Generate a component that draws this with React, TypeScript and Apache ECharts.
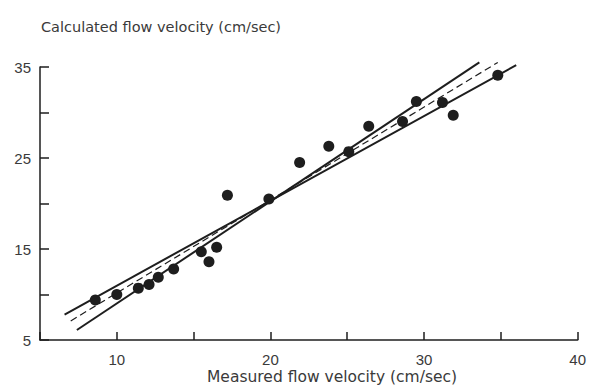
import React, { useEffect, useRef } from "react";
import * as echarts from "echarts";

const measured = [8.6, 10.0, 11.4, 12.1, 12.7, 13.7, 15.5, 16.0, 16.5, 17.2, 19.9, 21.9, 23.8, 25.1, 26.4, 28.6, 29.5, 31.2, 31.9, 34.8];
const calculated = [9.4, 10.0, 10.7, 11.1, 11.9, 12.8, 14.7, 13.6, 15.2, 20.9, 20.5, 24.5, 26.3, 25.7, 28.5, 29.0, 31.2, 31.1, 29.7, 34.1];

const steepLine = [[7.4, 6.1], [33.6, 35.5]];
const shallowLine = [[6.6, 7.8], [36.0, 35.2]];
const dashedLine = [[7.0, 7.1], [34.8, 35.5]];

const yLabels = [5, 15, 25, 35];
const xLabels = [10, 20, 30, 40];

const ink = "#1e1e1e";
const textColor = "#3a3a3a";

export default function App() {
  const ref = useRef<HTMLDivElement>(null);
  useEffect(() => {
    const chart = echarts.init(ref.current!, undefined, { renderer: "svg" });
    const points = measured.map((m, i) => [m, calculated[i]]);
    chart.setOption({
      animation: false,
      backgroundColor: "#fff",
      title: [
        {
          text: "Calculated flow velocity (cm/sec)",
          left: 36,
          top: 14,
          textStyle: { fontFamily: "DejaVu Sans", fontSize: 14.5, fontWeight: "normal", color: textColor },
        },
        {
          text: "Measured flow velocity (cm/sec)",
          left: 207,
          top: 369,
          padding: 0,
          textStyle: { fontFamily: "DejaVu Sans", fontSize: 15.5, fontWeight: "normal", color: textColor },
        },
      ],
      grid: { left: 40, right: 11, top: 67, bottom: 50, containLabel: false },
      xAxis: {
        type: "value",
        min: 5,
        max: 40,
        interval: 5,
        splitLine: { show: false },
        axisLine: { lineStyle: { color: ink, width: 1.5 } },
        axisTick: { inside: true, length: 8, lineStyle: { color: ink, width: 1.5 } },
        axisLabel: {
          margin: 12,
          fontFamily: "Liberation Sans",
          fontSize: 15,
          color: textColor,
          formatter: (v: number) => (xLabels.includes(v) ? String(v) : ""),
        },
      },
      yAxis: {
        type: "value",
        min: 5,
        max: 35,
        interval: 5,
        splitLine: { show: false },
        axisLine: { show: true, lineStyle: { color: ink, width: 1.5 } },
        axisTick: { show: true, inside: true, length: 9, lineStyle: { color: ink, width: 1.5 } },
        axisLabel: {
          margin: 9,
          fontFamily: "Liberation Sans",
          fontSize: 15,
          color: textColor,
          formatter: (v: number) => (yLabels.includes(v) ? String(v) : ""),
        },
      },
      series: [
        {
          type: "line",
          data: steepLine,
          symbol: "none",
          clip: false,
          lineStyle: { color: ink, width: 2 },
        },
        {
          type: "line",
          data: shallowLine,
          symbol: "none",
          clip: false,
          lineStyle: { color: ink, width: 2 },
        },
        {
          type: "line",
          data: dashedLine,
          symbol: "none",
          clip: false,
          lineStyle: { color: ink, width: 1.2, type: [7, 4] },
        },
        {
          type: "scatter",
          data: points,
          symbolSize: 11,
          itemStyle: { color: ink, opacity: 1 },
        },
      ],
    });
    return () => chart.dispose();
  }, []);
  return <div ref={ref} style={{ width: 589, height: 390, position: "absolute", left: 0, top: 0 }} />;
}
